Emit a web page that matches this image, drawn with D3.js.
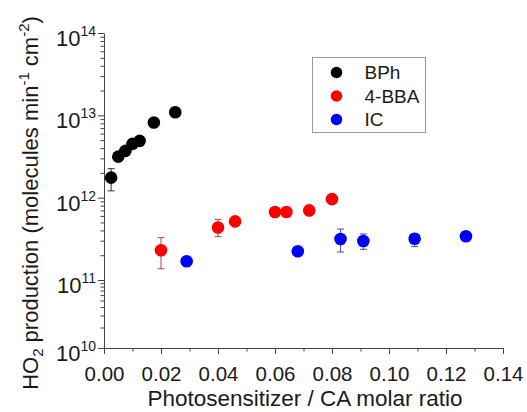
<!DOCTYPE html>
<html>
<head>
<meta charset="utf-8">
<script src="https://cdn.jsdelivr.net/npm/d3@7"></script>
<style>
  body { margin: 0; background: #fff; }
  text { font-family: Arial, "Liberation Sans", sans-serif; fill: #1a1a1a; }
</style>
</head>
<body>
<script>
const width = 527,
    height = 412;

// data
const bphX = [0.0025, 0.005, 0.0075, 0.01, 0.0125, 0.0175, 0.025];
const bphY = [1.75e12, 3.15e12, 3.7e12, 4.5e12, 4.9e12, 8.2e12, 1.09e13];
const bphLo = [1.21e12, null, null, null, null, null, null];
const bphHi = [2.25e12, null, null, null, null, null, null];

const bbaX = [0.02, 0.04, 0.046, 0.06, 0.064, 0.072, 0.08];
const bbaY = [2.3e11, 4.35e11, 5.15e11, 6.7e11, 6.7e11, 7.0e11, 9.6e11];
const bbaLo = [1.37e11, 3.36e11, null, null, null, null, null];
const bbaHi = [3.27e11, 5.46e11, null, null, null, null, null];

const icX = [0.029, 0.068, 0.083, 0.091, 0.109, 0.127];
const icY = [1.69e11, 2.23e11, 3.15e11, 2.98e11, 3.17e11, 3.4e11];
const icLo = [null, null, 2.19e11, 2.36e11, 2.54e11, 2.98e11];
const icHi = [null, null, 4.16e11, 3.62e11, 3.62e11, 3.83e11];

const seriesNames = ["BPh", "4-BBA", "IC"];
const xTicks = [0, 0.02, 0.04, 0.06, 0.08, 0.10, 0.12, 0.14];
const yTicks = [1e10, 1e11, 1e12, 1e13, 1e14];

const series = [
  { name: seriesNames[0], xs: bphX, ys: bphY, lo: bphLo, hi: bphHi, color: "#000", err: "#333" },
  { name: seriesNames[1], xs: bbaX, ys: bbaY, lo: bbaLo, hi: bbaHi, color: "#f00", err: "#b04545" },
  { name: seriesNames[2], xs: icX, ys: icY, lo: icLo, hi: icHi, color: "#00f", err: "#4545b0" }
];

const svg = d3.select("body").append("svg")
    .attr("width", width)
    .attr("height", height);

const x = d3.scaleLinear().domain([0, 0.14]).range([104, 503]);
// the bottom decade is drawn shorter in the source figure
const y = d3.scaleLog().domain([1e10, 1e11, 1e14]).range([348, 280, 33]);

const axisColor = "#444";

// x axis
var xMinor = d3.range(0.01, 0.14, 0.02);
svg.append("g")
    .attr("transform", "translate(0," + y(1e10) + ")")
    .call(d3.axisBottom(x).tickValues(xMinor).tickSize(3.5).tickFormat(""))
    .call(g => g.select(".domain").remove());
var gx = svg.append("g")
    .attr("transform", "translate(0," + y(1e10) + ")")
    .call(d3.axisBottom(x).tickValues(xTicks).tickSize(6).tickSizeOuter(0)
        .tickPadding(12).tickFormat(d3.format(".2f")));
gx.selectAll("text").style("font-size", "20.5px").attr("fill", "#1a1a1a");

// y axis, log with minor ticks
var yMinor = [];
[1e10, 1e11, 1e12, 1e13].forEach(function(p) {
  for (var k = 2; k < 10; k++) yMinor.push(k * p);
});
svg.append("g")
    .attr("transform", "translate(" + x(0) + ",0)")
    .call(d3.axisLeft(y).tickValues(yMinor).tickSize(3.5).tickFormat(""))
    .call(g => g.select(".domain").remove());
var gy = svg.append("g")
    .attr("transform", "translate(" + x(0) + ",0)")
    .call(d3.axisLeft(y).tickValues(yTicks).tickSize(6).tickSizeOuter(0).tickFormat(""));

svg.selectAll(".domain, .tick line").attr("stroke", axisColor);

var yLab = gy.selectAll(".tick").append("text")
    .attr("x", -8)
    .attr("y", 12.5)
    .attr("text-anchor", "end")
    .style("font-size", "22px");
yLab.append("tspan").text("10");
yLab.append("tspan").attr("dy", -10).style("font-size", "14px")
    .text(function(d) { return Math.round(Math.log10(d)); });

// error bars
series.forEach(function(s) {
  var g = svg.append("g");
  s.xs.forEach(function(xv, i) {
    if (s.lo[i] == null) return;
    var cx = x(xv);
    g.append("line").attr("x1", cx).attr("x2", cx)
        .attr("y1", y(s.lo[i])).attr("y2", y(s.hi[i]))
        .attr("stroke", s.err).attr("stroke-width", 1);
    [s.lo[i], s.hi[i]].forEach(function(v) {
      g.append("line").attr("x1", cx - 3.5).attr("x2", cx + 3.5)
          .attr("y1", y(v)).attr("y2", y(v))
          .attr("stroke", s.err).attr("stroke-width", 1);
    });
  });
});

// points
series.forEach(function(s) {
  svg.append("g").selectAll("circle")
      .data(s.xs.map(function(xv, i) { return [xv, s.ys[i]]; }))
      .enter().append("circle")
      .attr("cx", function(d) { return x(d[0]); })
      .attr("cy", function(d) { return y(d[1]); })
      .attr("r", 6.3)
      .attr("fill", s.color);
});

// legend
var legend = svg.append("g").attr("transform", "translate(312.5,57.5)");
legend.append("rect")
    .attr("width", 113).attr("height", 75)
    .attr("fill", "#fff").attr("stroke", "#999");
series.forEach(function(s, i) {
  var row = legend.append("g").attr("transform", "translate(0," + (15 + i * 23.5) + ")");
  row.append("circle").attr("cx", 24).attr("cy", 0).attr("r", 5.8).attr("fill", s.color);
  row.append("text").attr("x", 52).attr("y", 6.8)
      .style("font-size", "19px").text(s.name);
});

// axis titles
svg.append("text")
    .attr("x", 305).attr("y", 406)
    .attr("text-anchor", "middle")
    .style("font-size", "22.5px")
    .text("Photosensitizer / CA molar ratio");

var yt = svg.append("text")
    .attr("transform", "translate(38,203) rotate(-90)")
    .attr("text-anchor", "middle")
    .style("font-size", "22px");
yt.append("tspan").text("HO");
yt.append("tspan").attr("dy", 5).style("font-size", "15px").text("2");
yt.append("tspan").attr("dy", -5).text(" production (molecules min");
yt.append("tspan").attr("dy", -9).style("font-size", "15px").text("-1");
yt.append("tspan").attr("dy", 9).text(" cm");
yt.append("tspan").attr("dy", -9).style("font-size", "15px").text("-2");
yt.append("tspan").attr("dy", 9).text(")");
</script>
</body>
</html>
